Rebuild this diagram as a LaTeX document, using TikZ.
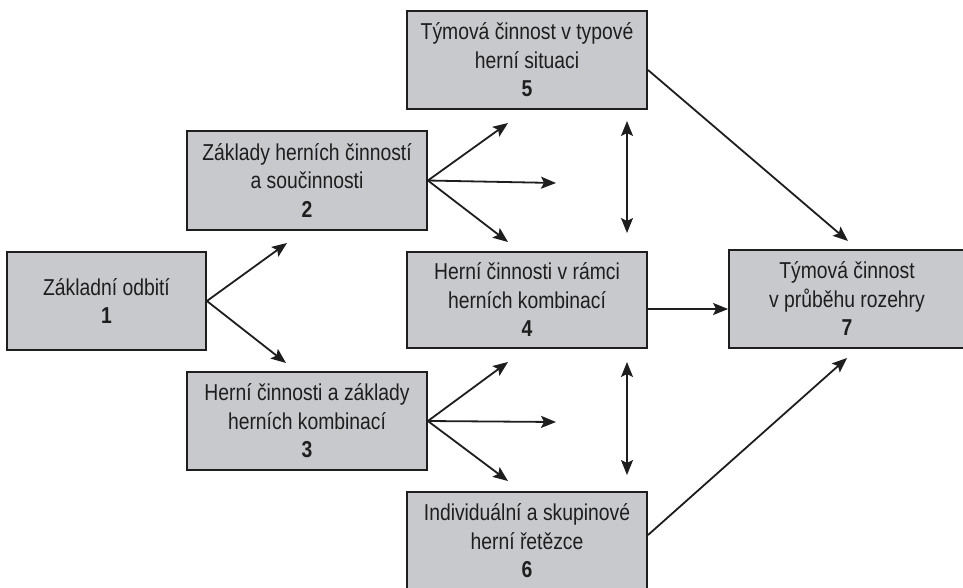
\documentclass[tikz,border=0pt]{standalone}
\usepackage{fontspec}
\setmainfont[FakeStretch=0.84]{Liberation Sans}
\usetikzlibrary{arrows.meta}
\definecolor{boxgray}{RGB}{200,201,204}
\definecolor{inkline}{RGB}{30,30,30}
\tikzset{
  stagebox/.style={draw=inkline, line width=1.8pt, fill=boxgray, inner sep=0pt,
    align=center, font=\fontsize{23}{28.5}\selectfont, text=inkline},
  flow/.style={draw=inkline, line width=1.8pt, -{Stealth[length=15pt,width=12pt,inset=3pt]}},
  both/.style={draw=inkline, line width=1.8pt, {Stealth[length=15pt,width=12pt,inset=3pt]}-{Stealth[length=15pt,width=12pt,inset=3pt]}}
}
\begin{document}
\begin{tikzpicture}[x=1pt,y=-1pt]
\useasboundingbox (0,0) rectangle (963,587);
\clip (0,0) rectangle (963,587);
\fill[white] (0,0) rectangle (963,587);

\node[stagebox, minimum width=199pt, minimum height=98pt] (b1) at (106.5,301) {Základní odbití\\\textbf{1}};
\node[stagebox, minimum width=240pt, minimum height=99pt] (b2) at (307,180.5) {Základy herních činností\\a součinnosti\\\textbf{2}};
\node[stagebox, minimum width=240pt, minimum height=98pt] (b3) at (307,421) {Herní činnosti a základy\\herních kombinací\\\textbf{3}};
\node[stagebox, minimum width=240pt, minimum height=96pt] (b4) at (527,300) {Herní činnosti v rámci\\herních kombinací\\\textbf{4}};
\node[stagebox, minimum width=240pt, minimum height=98pt] (b5) at (527,60) {Týmová činnost v typové\\herní situaci\\\textbf{5}};
\node[stagebox, minimum width=240pt, minimum height=98pt] (b6) at (527,541) {Individuální a skupinové\\herní řetězce\\\textbf{6}};
\node[stagebox, minimum width=236pt, minimum height=98pt] (b7) at (847,299) {Týmová činnost\\v průběhu rozehry\\\textbf{7}};

% free arrow ends
\coordinate (t1a) at (287,243);
\coordinate (t1b) at (286,363);
\coordinate (t2a) at (508,123);
\coordinate (t2b) at (556,183);
\coordinate (t2c) at (508,242);
\coordinate (t3a) at (508,362);
\coordinate (t3b) at (556,422);
\coordinate (t3c) at (508,481);
\coordinate (d1a) at (627,121);
\coordinate (d1b) at (627,233);
\coordinate (d2a) at (627,362);
\coordinate (d2b) at (627,475);
\coordinate (s5) at (648,70);
\coordinate (e5) at (848,241);
\coordinate (s6) at (648,535);
\coordinate (e6) at (847,358);

\draw[flow] (b1.east) -- (t1a);
\draw[flow] (b1.east) -- (t1b);
\draw[flow] (b2.east) -- (t2a);
\draw[flow] (b2.east) -- (t2b);
\draw[flow] (b2.east) -- (t2c);
\draw[flow] (b3.east) -- (t3a);
\draw[flow] (b3.east) -- (t3b);
\draw[flow] (b3.east) -- (t3c);
\draw[both] (d1a) -- (d1b);
\draw[both] (d2a) -- (d2b);
\draw[flow] (s5) -- (e5);
\draw[flow] (b4.east |- 0,309) -- (b7.west |- 0,309);
\draw[flow] (s6) -- (e6);
\end{tikzpicture}
\end{document}
